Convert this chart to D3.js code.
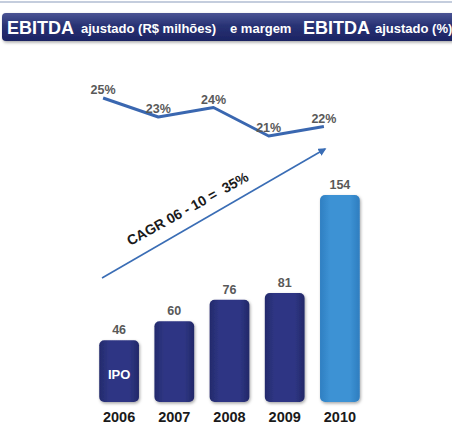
<!DOCTYPE html>
<html>
<head>
<meta charset="utf-8">
<script src="https://cdn.jsdelivr.net/npm/d3@7"></script>
<style>
  body { margin: 0; background: #fff; }
  svg { display: block; font-family: "Liberation Sans", Arial, sans-serif; }
</style>
</head>
<body>
<svg id="chart" width="452" height="426"></svg>
<script>
// EBITDA ajustado (R$ milhões) and margem (%)
var years = ["2006", "2007", "2008", "2009", "2010"];
var ebitda = [46, 60, 76, 81, 154];
var margem = [25, 23, 24, 21, 22];
var cagrLabel = "CAGR 06 - 10 =  35%";

var svg = d3.select("#chart");
var defs = svg.append("defs");

// gradients
var bg = defs.append("linearGradient").attr("id", "banner").attr("x1", 0).attr("y1", 0).attr("x2", 0).attr("y2", 1);
bg.append("stop").attr("offset", "0%").attr("stop-color", "#4a5494");
bg.append("stop").attr("offset", "45%").attr("stop-color", "#283274");
bg.append("stop").attr("offset", "100%").attr("stop-color", "#1c2463");

var navy = defs.append("linearGradient").attr("id", "navy").attr("x1", 0).attr("y1", 0).attr("x2", 1).attr("y2", 0);
navy.append("stop").attr("offset", "0%").attr("stop-color", "#232a6c");
navy.append("stop").attr("offset", "25%").attr("stop-color", "#2f3684");
navy.append("stop").attr("offset", "75%").attr("stop-color", "#2f3684");
navy.append("stop").attr("offset", "100%").attr("stop-color", "#222868");

var light = defs.append("linearGradient").attr("id", "light").attr("x1", 0).attr("y1", 0).attr("x2", 1).attr("y2", 0);
light.append("stop").attr("offset", "0%").attr("stop-color", "#2f7fc2");
light.append("stop").attr("offset", "25%").attr("stop-color", "#3d92d4");
light.append("stop").attr("offset", "75%").attr("stop-color", "#3d92d4");
light.append("stop").attr("offset", "100%").attr("stop-color", "#2e7dbf");

var sh = defs.append("filter").attr("id", "shadow").attr("x", "-20%").attr("y", "-20%").attr("width", "140%").attr("height", "140%");
sh.append("feDropShadow").attr("dx", 1).attr("dy", 1.5).attr("stdDeviation", 1.5).attr("flood-color", "#000").attr("flood-opacity", 0.35);

defs.append("marker").attr("id", "arrow")
    .attr("viewBox", "0 0 10 10").attr("refX", 8).attr("refY", 5)
    .attr("markerWidth", 5).attr("markerHeight", 5).attr("orient", "auto")
  .append("path").attr("d", "M0,0L10,5L0,10Z").attr("fill", "#3a6db5");

// top rule
svg.append("line").attr("x1", 0).attr("x2", 452).attr("y1", 2).attr("y2", 2)
    .attr("stroke", "#8a9cbc").attr("stroke-width", 1.2);

// title banner
svg.append("rect").attr("x", 2).attr("y", 13).attr("width", 470).attr("height", 28).attr("rx", 4)
    .attr("fill", "url(#banner)").attr("filter", "url(#shadow)");

var title = svg.append("g").attr("fill", "#fff").attr("font-weight", "bold");
title.append("text").attr("x", 7).attr("y", 34).attr("font-size", 18).text("EBITDA");
title.append("text").attr("x", 81).attr("y", 33).attr("font-size", 13).text("ajustado (R$ milhões)");
title.append("text").attr("x", 230).attr("y", 33).attr("font-size", 13).text("e margem");
title.append("text").attr("x", 303).attr("y", 34).attr("font-size", 18).text("EBITDA");
title.append("text").attr("x", 375).attr("y", 33).attr("font-size", 13).text("ajustado (%)");

// scales
var x = d3.scaleBand().domain(years).range([91.5, 367.5]).paddingInner(0.28).paddingOuter(0.14);
var y = d3.scaleLinear().domain([0, 154]).range([402, 195]);
var ym = d3.scaleLinear().domain([21, 25]).range([136, 98]);

// bars
var bars = svg.selectAll(".bar").data(years).enter().append("g").attr("class", "bar");
bars.append("rect")
    .attr("x", function(d) { return x(d); })
    .attr("y", function(d, i) { return y(ebitda[i]); })
    .attr("width", x.bandwidth())
    .attr("height", function(d, i) { return y(0) - y(ebitda[i]); })
    .attr("rx", 5)
    .attr("fill", function(d, i) { return i === years.length - 1 ? "url(#light)" : "url(#navy)"; })
    .attr("filter", "url(#shadow)");

bars.append("text")
    .attr("x", function(d) { return x(d) + x.bandwidth() / 2; })
    .attr("y", function(d, i) { return y(ebitda[i]) - 6; })
    .attr("text-anchor", "middle")
    .attr("font-size", 12.5).attr("font-weight", "bold").attr("fill", "#595959")
    .text(function(d, i) { return ebitda[i]; });

// year labels
svg.selectAll(".year").data(years).enter().append("text")
    .attr("class", "year")
    .attr("x", function(d) { return x(d) + x.bandwidth() / 2; })
    .attr("y", 422)
    .attr("text-anchor", "middle")
    .attr("font-size", 14.5).attr("font-weight", "bold").attr("fill", "#1a1a1a")
    .text(function(d) { return d; });

svg.append("text")
    .attr("x", x(years[0]) + x.bandwidth() / 2)
    .attr("y", 379)
    .attr("text-anchor", "middle")
    .attr("font-size", 13).attr("font-weight", "bold").attr("fill", "#fff")
    .text("IPO");

// margin line
var lx = function(d) { return x(d) + x.bandwidth() / 2 - 16; };
var line = d3.line()
    .x(function(d) { return lx(d); })
    .y(function(d, i) { return ym(margem[i]); });

svg.append("path").datum(years)
    .attr("d", line)
    .attr("fill", "none").attr("stroke", "#3a67b0").attr("stroke-width", 3)
    .attr("stroke-linejoin", "round");

svg.selectAll(".mlabel").data(years).enter().append("text")
    .attr("class", "mlabel")
    .attr("x", function(d) { return lx(d); })
    .attr("y", function(d, i) { return ym(margem[i]) - 4; })
    .attr("text-anchor", "middle")
    .attr("font-size", 12.5).attr("font-weight", "bold").attr("fill", "#595959")
    .text(function(d, i) { return margem[i] + "%"; });

// CAGR arrow
svg.append("line")
    .attr("x1", 102).attr("y1", 278).attr("x2", 325).attr("y2", 149)
    .attr("stroke", "#3a6db5").attr("stroke-width", 1.6)
    .attr("marker-end", "url(#arrow)");

svg.append("text")
    .attr("transform", "translate(190,213) rotate(-29)")
    .attr("text-anchor", "middle")
    .style("white-space", "pre")
    .attr("font-size", 14).attr("font-weight", "bold").attr("fill", "#1a1a1a")
    .text(cagrLabel);
</script>
</body>
</html>
